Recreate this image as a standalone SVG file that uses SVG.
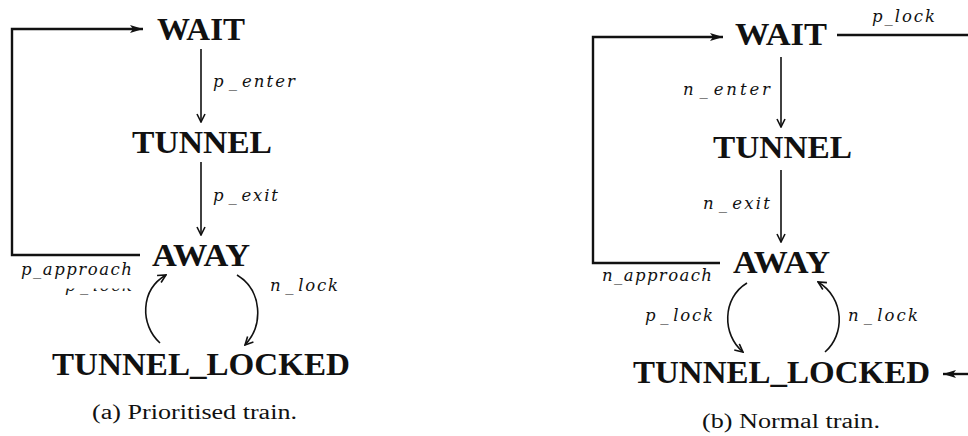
<svg xmlns="http://www.w3.org/2000/svg" width="968" height="436" viewBox="0 0 968 436">
  <style>
    .state { font-family: "Liberation Serif", "DejaVu Serif", serif; font-weight: bold; font-size: 31px; fill: #111; }
    .lbl { font-family: "DejaVu Serif", "Liberation Serif", serif; font-style: italic; font-size: 16.5px; fill: #111; }
    .cap { font-family: "Liberation Serif", "DejaVu Serif", serif; font-size: 20px; fill: #111; }
    .edge { fill: none; stroke: #111; stroke-width: 1.6; }
    .loop { fill: none; stroke: #111; stroke-width: 2.4; }
  </style>
  <defs>
    <!-- open chevron head -->
    <marker id="chev" viewBox="0 0 10 10" refX="9" refY="5" markerWidth="10" markerHeight="10" markerUnits="userSpaceOnUse" orient="auto">
      <path d="M1,1 L9,5 L1,9" fill="none" stroke="#111" stroke-width="1.6" stroke-linejoin="miter"/>
    </marker>
    <!-- filled triangle head -->
    <marker id="tri" viewBox="0 0 14 10" refX="13" refY="5" markerWidth="14" markerHeight="10" markerUnits="userSpaceOnUse" orient="auto">
      <path d="M0,1 L13,5 L0,9 L3,5 Z" fill="#111"/>
    </marker>
    <!-- only the lower strip of the hidden p_lock label shows -->
    <clipPath id="lowerStrip">
      <rect x="55" y="288.5" width="90" height="12"/>
    </clipPath>
  </defs>

  <!-- (a) prioritised train -->
  <g id="connectors-a">
    <path class="loop" d="M140,255 H12 V29 H143" marker-end="url(#tri)"/>
    <path class="edge" d="M201,49 V122" marker-end="url(#chev)"/>
    <path class="edge" d="M201,162 V235" marker-end="url(#chev)"/>
    <path class="edge" d="M160,343 C140,325 140,290 166,275" marker-end="url(#chev)"/>
    <path class="edge" d="M237,275 C262,290 264,325 245,345" marker-end="url(#chev)"/>
    <text class="lbl" x="213" y="87" textLength="82" lengthAdjust="spacing">p<tspan dx="3">_</tspan><tspan dx="3">enter</tspan></text>
    <text class="lbl" x="213" y="201" textLength="65" lengthAdjust="spacing">p<tspan dx="3">_</tspan><tspan dx="3">exit</tspan></text>
    <text class="lbl" x="65" y="291" textLength="67" lengthAdjust="spacing" clip-path="url(#lowerStrip)">p<tspan dx="3">_</tspan><tspan dx="3">lock</tspan></text>
    <text class="lbl" x="21" y="275" textLength="111" lengthAdjust="spacing">p_approach</text>
    <text class="lbl" x="270" y="291" textLength="68" lengthAdjust="spacing">n<tspan dx="3">_</tspan><tspan dx="3">lock</tspan></text>
  </g>
  <g id="a-wait"><text class="state" x="157" y="40" textLength="88" lengthAdjust="spacingAndGlyphs">WAIT</text></g>
  <g id="a-tunnel"><text class="state" x="132" y="153" textLength="140" lengthAdjust="spacingAndGlyphs">TUNNEL</text></g>
  <g id="a-away"><text class="state" x="152" y="266" textLength="98" lengthAdjust="spacingAndGlyphs">AWAY</text></g>
  <g id="a-tunnel-locked"><text class="state" x="52" y="375" textLength="298" lengthAdjust="spacingAndGlyphs">TUNNEL_LOCKED</text></g>
  <text class="cap" x="92" y="419" textLength="205" lengthAdjust="spacingAndGlyphs">(a) Prioritised train.</text>

  <!-- (b) normal train -->
  <g id="connectors-b">
    <path class="loop" d="M720,263 H593 V37 H723" marker-end="url(#tri)"/>
    <path class="loop" d="M837,35 H968"/>
    <path class="loop" d="M968,374 H943" marker-end="url(#tri)"/>
    <path class="edge" d="M781,57 V127" marker-end="url(#chev)"/>
    <path class="edge" d="M781,170 V242" marker-end="url(#chev)"/>
    <path class="edge" d="M747,283 C722,298 722,335 743,352" marker-end="url(#chev)"/>
    <path class="edge" d="M825,352 C845,335 845,298 818,282" marker-end="url(#chev)"/>
    <text class="lbl" x="872" y="22" textLength="63" lengthAdjust="spacing">p_lock</text>
    <text class="lbl" x="683" y="95" textLength="87" lengthAdjust="spacing">n<tspan dx="3">_</tspan><tspan dx="3">enter</tspan></text>
    <text class="lbl" x="703" y="209" textLength="67" lengthAdjust="spacing">n<tspan dx="3">_</tspan><tspan dx="3">exit</tspan></text>
    <text class="lbl" x="602" y="281" textLength="110" lengthAdjust="spacing">n_approach</text>
    <text class="lbl" x="645" y="321" textLength="68" lengthAdjust="spacing">p<tspan dx="3">_</tspan><tspan dx="3">lock</tspan></text>
    <text class="lbl" x="848" y="321" textLength="70" lengthAdjust="spacing">n<tspan dx="3">_</tspan><tspan dx="3">lock</tspan></text>
  </g>
  <g id="b-wait"><text class="state" x="735" y="45" textLength="92" lengthAdjust="spacingAndGlyphs">WAIT</text></g>
  <g id="b-tunnel"><text class="state" x="713" y="158" textLength="139" lengthAdjust="spacingAndGlyphs">TUNNEL</text></g>
  <g id="b-away"><text class="state" x="733" y="273" textLength="97" lengthAdjust="spacingAndGlyphs">AWAY</text></g>
  <g id="b-tunnel-locked"><text class="state" x="633" y="383" textLength="297" lengthAdjust="spacingAndGlyphs">TUNNEL_LOCKED</text></g>
  <text class="cap" x="702" y="428" textLength="178" lengthAdjust="spacingAndGlyphs">(b) Normal train.</text>
</svg>
